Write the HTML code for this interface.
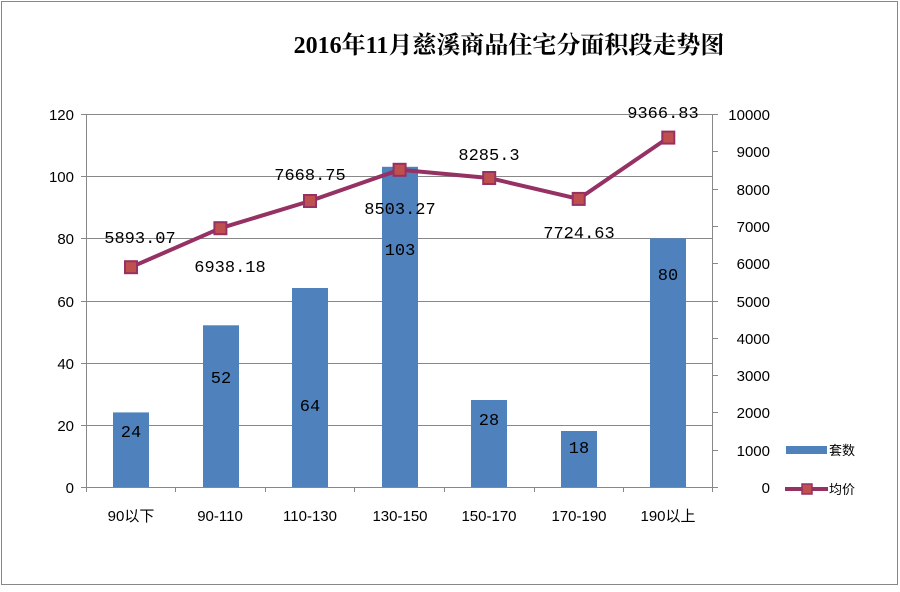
<!DOCTYPE html>
<html><head><meta charset="utf-8"><style>body{margin:0;background:#fff}</style></head><body>
<svg width="900" height="587" xmlns="http://www.w3.org/2000/svg" font-family="Liberation Sans, Noto Sans CJK SC, sans-serif">
<rect x="1.5" y="1.5" width="896" height="583" fill="#fff" stroke="#888" stroke-width="1"/>
<text x="509" y="53" text-anchor="middle" font-family="Liberation Serif, Noto Serif CJK SC, serif" font-size="24" font-weight="bold">2016年11月慈溪商品住宅分面积段走势图</text>
<g stroke="#888" stroke-width="1">
<line x1="86" y1="114.5" x2="713" y2="114.5"/>
<line x1="86" y1="176.5" x2="713" y2="176.5"/>
<line x1="86" y1="238.5" x2="713" y2="238.5"/>
<line x1="86" y1="301.5" x2="713" y2="301.5"/>
<line x1="86" y1="363.5" x2="713" y2="363.5"/>
<line x1="86" y1="425.5" x2="713" y2="425.5"/>
</g>
<g fill="#4f81bd">
<rect x="113" y="412.4" width="36" height="74.6"/>
<rect x="203" y="325.3" width="36" height="161.7"/>
<rect x="292" y="288" width="36" height="199"/>
<rect x="382" y="166.8" width="36" height="320.2"/>
<rect x="471" y="400" width="36" height="87"/>
<rect x="561" y="431" width="36" height="56"/>
<rect x="650" y="238.3" width="36" height="248.7"/>
</g>
<g stroke="#888" stroke-width="1">
<line x1="86.5" y1="114" x2="86.5" y2="492"/>
<line x1="712.5" y1="114" x2="712.5" y2="492"/>
<line x1="81" y1="487.5" x2="718" y2="487.5"/>
<g>
<line x1="81" y1="114.5" x2="86" y2="114.5"/><line x1="81" y1="176.5" x2="86" y2="176.5"/><line x1="81" y1="238.5" x2="86" y2="238.5"/><line x1="81" y1="301.5" x2="86" y2="301.5"/><line x1="81" y1="363.5" x2="86" y2="363.5"/><line x1="81" y1="425.5" x2="86" y2="425.5"/>
</g>
<g>
<line x1="713" y1="114.5" x2="718" y2="114.5"/><line x1="713" y1="151.5" x2="718" y2="151.5"/><line x1="713" y1="189.5" x2="718" y2="189.5"/><line x1="713" y1="226.5" x2="718" y2="226.5"/><line x1="713" y1="263.5" x2="718" y2="263.5"/><line x1="713" y1="301.5" x2="718" y2="301.5"/><line x1="713" y1="338.5" x2="718" y2="338.5"/><line x1="713" y1="375.5" x2="718" y2="375.5"/><line x1="713" y1="412.5" x2="718" y2="412.5"/><line x1="713" y1="450.5" x2="718" y2="450.5"/>
</g>
<g>
<line x1="175.5" y1="487" x2="175.5" y2="492"/><line x1="265.5" y1="487" x2="265.5" y2="492"/><line x1="354.5" y1="487" x2="354.5" y2="492"/><line x1="444.5" y1="487" x2="444.5" y2="492"/><line x1="534.5" y1="487" x2="534.5" y2="492"/><line x1="623.5" y1="487" x2="623.5" y2="492"/>
</g>
</g>
<g font-size="15" text-anchor="end">
<text x="74" y="120">120</text><text x="74" y="182">100</text><text x="74" y="244">80</text><text x="74" y="307">60</text><text x="74" y="369">40</text><text x="74" y="431">20</text><text x="74" y="493">0</text>
</g>
<g font-size="15" text-anchor="end">
<text x="770" y="120">10000</text><text x="770" y="157">9000</text><text x="770" y="195">8000</text><text x="770" y="232">7000</text><text x="770" y="269">6000</text><text x="770" y="307">5000</text><text x="770" y="344">4000</text><text x="770" y="381">3000</text><text x="770" y="418">2000</text><text x="770" y="456">1000</text><text x="770" y="493">0</text>
</g>
<g font-size="15" text-anchor="middle">
<text x="131" y="521">90以下</text><text x="220" y="521">90-110</text><text x="310" y="521">110-130</text><text x="400" y="521">130-150</text><text x="489" y="521">150-170</text><text x="579" y="521">170-190</text><text x="668" y="521">190以上</text>
</g>
<polyline fill="none" stroke="#953163" stroke-width="4" stroke-linejoin="round" points="131,267.2 220.4,228.2 310,201 399.6,169.8 489.2,178 578.7,198.9 668.3,137.6"/>
<g fill="#c0504d" stroke="#953163" stroke-width="2">
<rect x="125" y="261.2" width="12" height="12"/><rect x="214.4" y="222.2" width="12" height="12"/><rect x="304" y="195" width="12" height="12"/><rect x="393.6" y="163.8" width="12" height="12"/><rect x="483.2" y="172" width="12" height="12"/><rect x="572.7" y="192.9" width="12" height="12"/><rect x="662.3" y="131.6" width="12" height="12"/>
</g>
<g font-family="Liberation Mono, monospace" font-size="17" text-anchor="middle">
<text x="140" y="243">5893.07</text><text x="230" y="272">6938.18</text><text x="310" y="180">7668.75</text><text x="400" y="214">8503.27</text><text x="489" y="160">8285.3</text><text x="579" y="238">7724.63</text><text x="663" y="118">9366.83</text>
<text x="131" y="437">24</text><text x="221" y="383">52</text><text x="310" y="411">64</text><text x="400" y="255">103</text><text x="489" y="425">28</text><text x="579" y="453">18</text><text x="668" y="280">80</text>
</g>
<rect x="786" y="446" width="41" height="8" fill="#4f81bd"/>
<text x="829" y="455" font-size="13">套数</text>
<line x1="785" y1="489" x2="828" y2="489" stroke="#953163" stroke-width="4"/>
<rect x="802" y="484" width="10" height="10" fill="#c0504d" stroke="#953163" stroke-width="1.5"/>
<text x="829" y="494" font-size="13">均价</text>
</svg>
</body></html>
